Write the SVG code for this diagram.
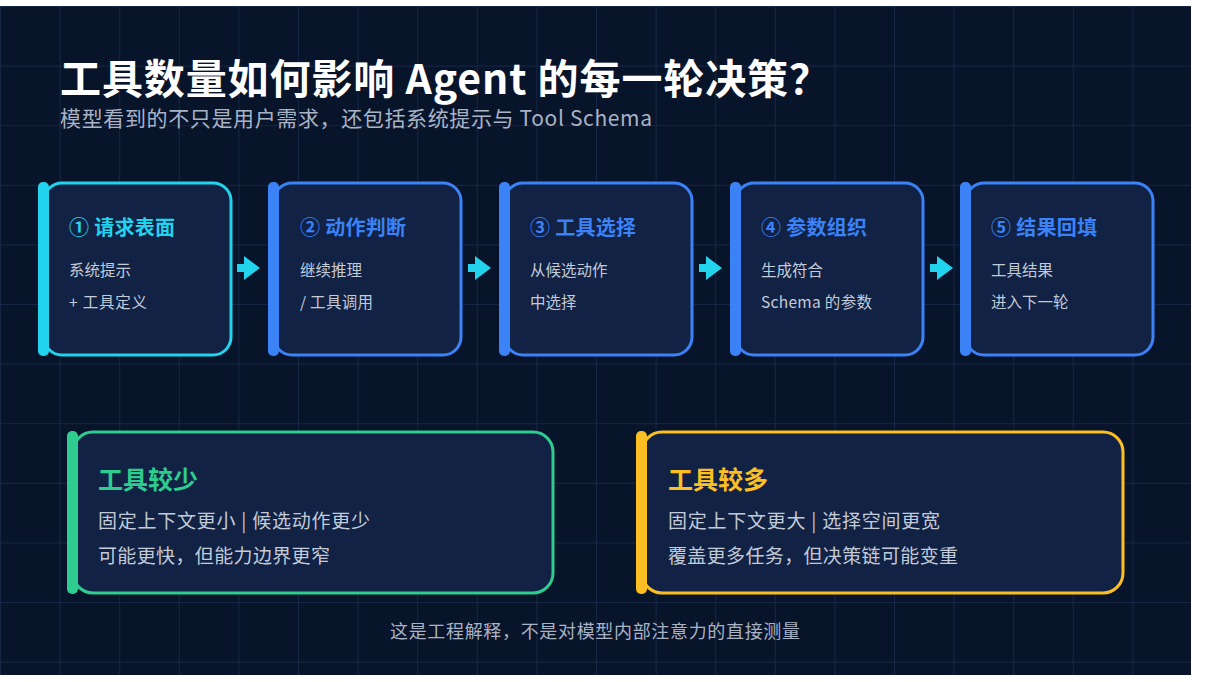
<svg xmlns="http://www.w3.org/2000/svg" width="1214" height="682" viewBox="0 0 1214 682">
<defs>
<pattern id="grid" x="0" y="6" width="59.6" height="59.6" patternUnits="userSpaceOnUse">
<path d="M0 0H59.6M0 0V59.6" fill="none" stroke="#1a2b4d" stroke-width="1.5"/>
</pattern>
<style>
text{font-family:"Noto Sans CJK SC","Noto Sans",sans-serif}
.card{fill:#112244;stroke-width:3}
.st{font-size:20px;font-weight:700}
.sb{font-size:15.5px;fill:#c3cad8}
.bt{font-size:25px;font-weight:700}
.bb{font-size:19px;fill:#c3cad8}
.arr{fill:#22d3ee}
</style>
</defs>
<rect width="1214" height="682" fill="#fff"/>
<rect x="0" y="6" width="1191" height="669" fill="#08142a"/>
<rect x="0" y="6" width="1191" height="669" fill="url(#grid)"/>
<text x="60" y="94" font-size="41" font-weight="700" fill="#ffffff" textLength="770" lengthAdjust="spacing">工具数量如何影响 Agent 的每一轮决策？</text>
<text x="60" y="126" font-size="21" fill="#a9b3c6" textLength="592" lengthAdjust="spacing">模型看到的不只是用户需求，还包括系统提示与 Tool Schema</text>
<g id="connectors">
<path class="arr" d="M237 264H244V256L260 268L244 280V272H237Z"/>
<path class="arr" d="M468 264H475V256L491 268L475 280V272H468Z"/>
<path class="arr" d="M699 264H706V256L722 268L706 280V272H699Z"/>
<path class="arr" d="M930 264H937V256L953 268L937 280V272H930Z"/>
</g>
<g id="step1">
<rect class="card" x="44" y="183" width="187" height="172" rx="18" stroke="#22d3ee"/>
<rect x="38" y="182" width="11" height="174" rx="5" fill="#22d3ee"/>
<text class="st" x="69" y="235" fill="#22d3ee" textLength="106" lengthAdjust="spacing">① 请求表面</text>
<text class="sb" x="69" y="276">系统提示</text>
<text class="sb" x="69" y="308" textLength="78" lengthAdjust="spacing">+ 工具定义</text>
</g>
<g id="step2">
<rect class="card" x="274" y="183" width="187" height="172" rx="18" stroke="#3b82f6"/>
<rect x="268" y="182" width="11" height="174" rx="5" fill="#3b82f6"/>
<text class="st" x="300" y="235" fill="#3b82f6" textLength="106" lengthAdjust="spacing">② 动作判断</text>
<text class="sb" x="300" y="276">继续推理</text>
<text class="sb" x="300" y="308" textLength="73" lengthAdjust="spacing">/ 工具调用</text>
</g>
<g id="step3">
<rect class="card" x="505" y="183" width="187" height="172" rx="18" stroke="#3b82f6"/>
<rect x="499" y="182" width="11" height="174" rx="5" fill="#3b82f6"/>
<text class="st" x="530" y="235" fill="#3b82f6" textLength="106" lengthAdjust="spacing">③ 工具选择</text>
<text class="sb" x="530" y="276">从候选动作</text>
<text class="sb" x="530" y="308">中选择</text>
</g>
<g id="step4">
<rect class="card" x="736" y="183" width="187" height="172" rx="18" stroke="#3b82f6"/>
<rect x="730" y="182" width="11" height="174" rx="5" fill="#3b82f6"/>
<text class="st" x="761" y="235" fill="#3b82f6" textLength="106" lengthAdjust="spacing">④ 参数组织</text>
<text class="sb" x="761" y="276">生成符合</text>
<text class="sb" x="761" y="308" textLength="111" lengthAdjust="spacing">Schema 的参数</text>
</g>
<g id="step5">
<rect class="card" x="966" y="183" width="187" height="172" rx="18" stroke="#3b82f6"/>
<rect x="960" y="182" width="11" height="174" rx="5" fill="#3b82f6"/>
<text class="st" x="991" y="235" fill="#3b82f6" textLength="106" lengthAdjust="spacing">⑤ 结果回填</text>
<text class="sb" x="991" y="276">工具结果</text>
<text class="sb" x="991" y="308">进入下一轮</text>
</g>
<g id="few">
<rect class="card" x="73" y="432" width="480" height="161" rx="20" stroke="#2ecc8f"/>
<rect x="67" y="431" width="11" height="163" rx="5" fill="#2ecc8f"/>
<text class="bt" x="98" y="489" fill="#2ecc8f">工具较少</text>
<text class="bb" x="98" y="528" textLength="272" lengthAdjust="spacing">固定上下文更小 | 候选动作更少</text>
<text class="bb" x="98" y="563" textLength="232" lengthAdjust="spacing">可能更快，但能力边界更窄</text>
</g>
<g id="many">
<rect class="card" x="642" y="432" width="481" height="161" rx="20" stroke="#fbbf24"/>
<rect x="636" y="431" width="11" height="163" rx="5" fill="#fbbf24"/>
<text class="bt" x="668" y="489" fill="#fbbf24">工具较多</text>
<text class="bb" x="668" y="528" textLength="272" lengthAdjust="spacing">固定上下文更大 | 选择空间更宽</text>
<text class="bb" x="668" y="563" textLength="290" lengthAdjust="spacing">覆盖更多任务，但决策链可能变重</text>
</g>
<text x="390" y="638" font-size="18" fill="#a9b3c6" textLength="410" lengthAdjust="spacing">这是工程解释，不是对模型内部注意力的直接测量</text>
</svg>
